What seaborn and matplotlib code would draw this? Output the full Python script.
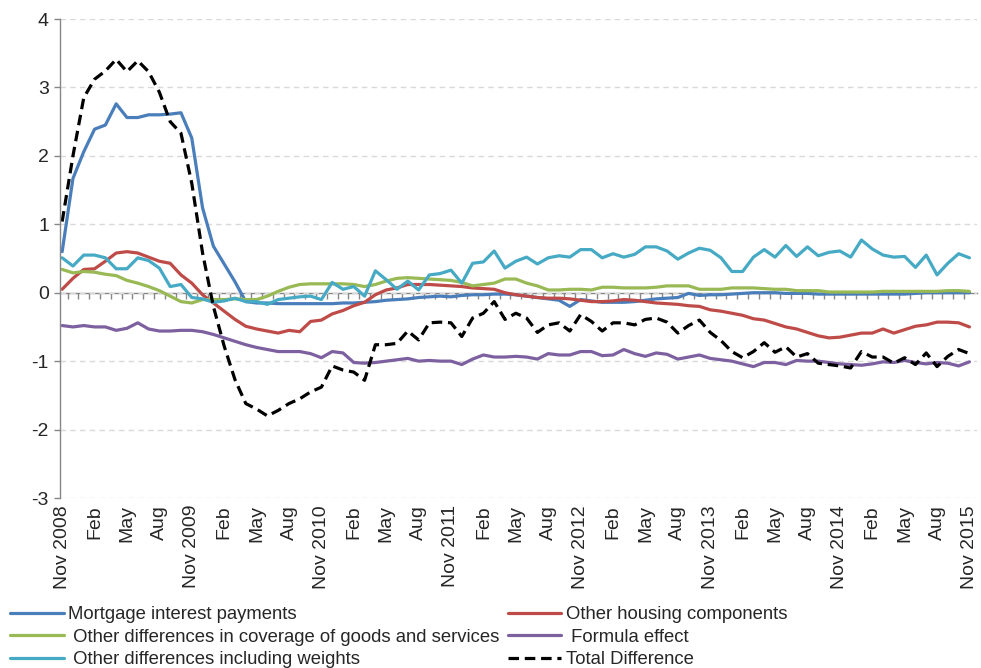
import numpy as np
import pandas as pd
import matplotlib
matplotlib.use("Agg")
import matplotlib.pyplot as plt
import seaborn as sns
from matplotlib.ticker import FixedLocator

# ---------------- data (Nov 2008 .. Nov 2015, monthly) ----------------
mortgage = [0.60, 1.67, 2.06, 2.39, 2.45, 2.76, 2.56, 2.56, 2.60, 2.60, 2.61,
            2.63, 2.26, 1.24, 0.68, 0.42, 0.16, -0.13, -0.15, -0.15, -0.16, -0.16,
            -0.16, -0.16, -0.16, -0.16, -0.15, -0.15, -0.14, -0.13, -0.11, -0.10, -0.09,
            -0.07, -0.06, -0.05, -0.06, -0.04, -0.03, -0.03, -0.02, -0.02, -0.03, -0.05,
            -0.07, -0.09, -0.11, -0.20, -0.10, -0.12, -0.14, -0.14, -0.14, -0.13, -0.11,
            -0.09, -0.08, -0.07, -0.01, -0.04, -0.03, -0.03, -0.02, -0.01, 0.00, 0.00,
            0.00, -0.01, -0.01, -0.01, -0.02, -0.02, -0.02, -0.02, -0.02, -0.02, -0.02,
            -0.02, -0.02, -0.01, 0.00, 0.00, 0.00, 0.00, 0.00]

other_housing = [0.05, 0.21, 0.34, 0.35, 0.46, 0.58, 0.60, 0.58, 0.52, 0.46, 0.43,
                 0.26, 0.14, -0.03, -0.15, -0.27, -0.39, -0.49, -0.53, -0.56, -0.59, -0.55,
                 -0.57, -0.42, -0.40, -0.31, -0.26, -0.19, -0.14, -0.03, 0.04, 0.07, 0.12,
                 0.12, 0.12, 0.11, 0.10, 0.09, 0.07, 0.06, 0.05, 0.00, -0.03, -0.05,
                 -0.07, -0.08, -0.08, -0.09, -0.11, -0.13, -0.13, -0.12, -0.10, -0.11, -0.13,
                 -0.15, -0.16, -0.17, -0.19, -0.20, -0.25, -0.27, -0.30, -0.33, -0.38, -0.40,
                 -0.45, -0.50, -0.53, -0.58, -0.63, -0.66, -0.65, -0.62, -0.59, -0.59, -0.53,
                 -0.59, -0.54, -0.49, -0.47, -0.43, -0.43, -0.44, -0.50]

coverage = [0.34, 0.29, 0.31, 0.30, 0.27, 0.25, 0.18, 0.14, 0.09, 0.03, -0.05,
            -0.13, -0.15, -0.10, -0.10, -0.10, -0.09, -0.10, -0.10, -0.05, 0.02, 0.08,
            0.12, 0.13, 0.13, 0.13, 0.13, 0.12, 0.09, 0.12, 0.17, 0.21, 0.22,
            0.21, 0.20, 0.19, 0.18, 0.15, 0.10, 0.12, 0.14, 0.20, 0.20, 0.14,
            0.10, 0.04, 0.04, 0.05, 0.05, 0.04, 0.08, 0.08, 0.07, 0.07, 0.07,
            0.08, 0.10, 0.10, 0.10, 0.05, 0.05, 0.05, 0.07, 0.07, 0.07, 0.06,
            0.05, 0.05, 0.03, 0.03, 0.03, 0.01, 0.01, 0.01, 0.01, 0.01, 0.02,
            0.02, 0.02, 0.02, 0.02, 0.02, 0.03, 0.03, 0.02]

formula = [-0.48, -0.50, -0.48, -0.50, -0.50, -0.55, -0.52, -0.44, -0.53, -0.56, -0.56,
           -0.55, -0.55, -0.57, -0.61, -0.66, -0.71, -0.76, -0.80, -0.83, -0.86, -0.86,
           -0.86, -0.89, -0.95, -0.86, -0.88, -1.02, -1.03, -1.02, -1.00, -0.98, -0.96,
           -1.00, -0.99, -1.00, -1.00, -1.05, -0.97, -0.91, -0.94, -0.94, -0.93, -0.94,
           -0.97, -0.89, -0.91, -0.91, -0.86, -0.86, -0.92, -0.91, -0.83, -0.89, -0.93,
           -0.88, -0.90, -0.97, -0.94, -0.91, -0.96, -0.98, -1.00, -1.04, -1.08, -1.02,
           -1.02, -1.05, -0.99, -1.00, -1.00, -1.02, -1.04, -1.05, -1.06, -1.04, -1.01,
           -1.02, -0.99, -1.02, -1.04, -1.02, -1.03, -1.07, -1.01]

weights = [0.51, 0.39, 0.55, 0.55, 0.51, 0.35, 0.35, 0.51, 0.47, 0.36, 0.09,
           0.12, -0.07, -0.09, -0.14, -0.12, -0.08, -0.13, -0.13, -0.17, -0.10, -0.08,
           -0.06, -0.05, -0.10, 0.15, 0.05, 0.09, -0.05, 0.32, 0.19, 0.05, 0.17,
           0.04, 0.26, 0.28, 0.33, 0.14, 0.43, 0.45, 0.61, 0.36, 0.46, 0.52,
           0.42, 0.51, 0.54, 0.52, 0.63, 0.63, 0.51, 0.57, 0.52, 0.56, 0.67,
           0.67, 0.61, 0.49, 0.58, 0.65, 0.62, 0.51, 0.31, 0.31, 0.52, 0.63,
           0.52, 0.69, 0.53, 0.67, 0.54, 0.59, 0.61, 0.52, 0.77, 0.64, 0.55,
           0.52, 0.53, 0.37, 0.55, 0.26, 0.43, 0.57, 0.51]

total = [1.04, 2.00, 2.85, 3.12, 3.24, 3.41, 3.23, 3.39, 3.23, 2.93, 2.50,
         2.33, 1.60, 0.58, -0.20, -0.78, -1.27, -1.62, -1.70, -1.80, -1.72, -1.62,
         -1.55, -1.45, -1.38, -1.07, -1.13, -1.16, -1.28, -0.76, -0.76, -0.74, -0.56,
         -0.69, -0.44, -0.43, -0.44, -0.64, -0.37, -0.30, -0.13, -0.39, -0.30, -0.37,
         -0.58, -0.47, -0.44, -0.56, -0.32, -0.42, -0.56, -0.44, -0.44, -0.47, -0.39,
         -0.37, -0.43, -0.59, -0.48, -0.40, -0.58, -0.70, -0.86, -0.95, -0.86, -0.73,
         -0.87, -0.79, -0.94, -0.89, -1.03, -1.05, -1.07, -1.10, -0.86, -0.94, -0.94,
         -1.03, -0.95, -1.05, -0.88, -1.08, -0.93, -0.83, -0.89]

months = np.arange(len(total))
tick_labels = []
for i in range(0, len(total), 3):
    if i % 12 == 0:
        tick_labels.append(f"Nov {2008 + i // 12}")
    else:
        tick_labels.append(["Feb", "May", "Aug"][(i % 12) // 3 - 1])

series_labels = ["Mortgage interest payments", "Other housing components",
                 " Other differences in coverage of goods and services", " Formula effect",
                 " Other differences including weights", "Total Difference"]
series_values = [mortgage, other_housing, coverage, formula, weights, total]
series_colors = ["#4A7EBB", "#BE4B48", "#98B954", "#7D60A0", "#46AAC5", "#000000"]

# ---------------- plot ----------------
sns.set_theme(style="white")
plt.rcParams["font.family"] = ["Liberation Sans", "DejaVu Sans"]

fig = plt.figure(figsize=(9.81, 6.68), dpi=100)
ax = fig.add_axes([60 / 981, 1 - 498 / 668, (977 - 60) / 981, (498 - 19) / 668])

handles = []
for lab, vals, col in zip(series_labels, series_values, series_colors):
    sns.lineplot(x=months, y=vals, ax=ax, color=col, linewidth=2.3, legend=False)
    ln = ax.lines[-1]
    if lab == "Total Difference":
        ln.set_dashes([3.3, 1.8])
    ln.set_label(lab)
    handles.append(ln)

ax.set_xlim(-0.2, 84.7)
ax.set_ylim(-3, 4)

gray = "#868686"
for s in ["top", "right", "bottom"]:
    ax.spines[s].set_visible(False)
ax.spines["left"].set_color(gray)
ax.spines["left"].set_linewidth(1.0)

ax.set_yticks(range(-3, 5))
ax.set_yticklabels([str(v) for v in range(-3, 5)])
ax.tick_params(axis="y", direction="out", length=4, width=1, color=gray,
               labelsize=14, pad=4, left=True)
ax.yaxis.grid(True, color="#d9d9d9", linestyle=(0, (4, 3)), linewidth=1)
ax.xaxis.grid(False)

ax.set_xticks(range(0, len(total), 3))
ax.set_xticklabels(tick_labels, rotation=90, fontsize=14)
ax.tick_params(axis="x", length=0, pad=5, bottom=False)
ax.set_xlabel("")
ax.set_ylabel("")

# category axis crossing at zero
sec = ax.secondary_xaxis((0 - (-3)) / 7)
sec.xaxis.set_major_locator(FixedLocator(np.arange(0.5, 84, 1)))
sec.tick_params(axis="x", direction="out", length=4, width=1, color=gray, labelbottom=False)
sec.spines["bottom"].set_color(gray)
sec.spines["bottom"].set_linewidth(1.0)

order = [0, 2, 4, 1, 3, 5]
fig.legend([handles[k] for k in order], [series_labels[k] for k in order],
           loc="upper left", bbox_to_anchor=(10 / 981, 1 - 606 / 668), ncol=2,
           frameon=False, fontsize=13.3, handlelength=2.9, handletextpad=0.25,
           columnspacing=0.45, labelspacing=0.3, borderaxespad=0, borderpad=0)

fig.savefig("out.png", dpi=100)
